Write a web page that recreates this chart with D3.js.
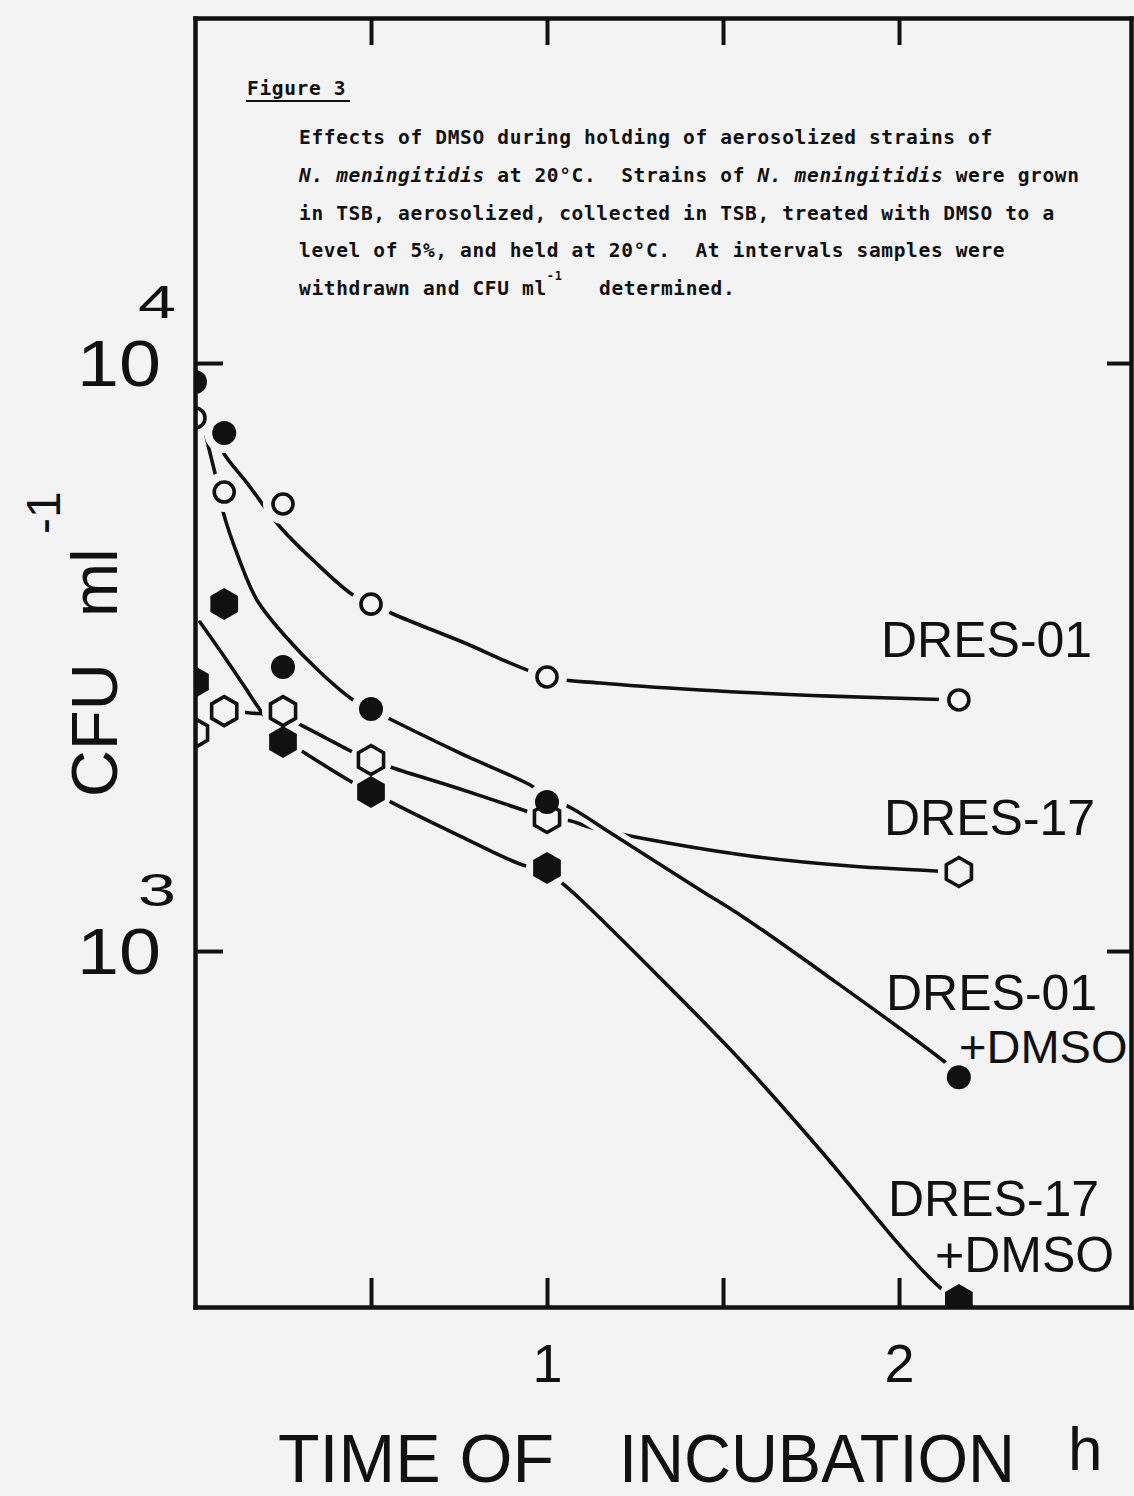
<!DOCTYPE html>
<html>
<head>
<meta charset="utf-8">
<script src="https://cdn.jsdelivr.net/npm/d3@7"></script>
<style>
  html, body { margin: 0; padding: 0; background: #f3f3f3; }
  svg { display: block; }
  .pre { white-space: pre; }
</style>
</head>
<body>
<svg id="chart" width="1134" height="1496"></svg>
<script>
// ---------------- DATA ----------------
// sampling times, hours
const times = [0, 0.083, 0.25, 0.5, 1.0, 2.17];
// CFU ml^-1 at each time
const dres01     = [8065, 6034, 5758, 3890, 2925, 2673];
const dres01Dmso = [9284, 7603, 3041, 2580, 1792, 610];
const dres17     = [2348, 2559, 2559, 2113, 1684, 1363];
const dres17Dmso = [2868, 3892, 2267, 1864, 1384, 255];

// hand-drawn fitted curves: [hours, CFU ml^-1]
const fit01 = [[0.014,8000],[0.051,7692],[0.085,6975],[0.148,6251],[0.242,5262],[0.335,4624],
  [0.449,4031],[0.506,3892],[0.563,3743],[0.753,3367],[1.003,2924],[1.151,2856],[1.435,2779],
  [1.804,2714],[2.168,2673]];
const fit01Dmso = [[0,9248],[0.017,8321],[0.034,7396],[0.060,6375],[0.080,5578],[0.122,4697],
  [0.176,3954],[0.261,3407],[0.355,2982],[0.449,2673],[0.503,2570],[0.753,2171],[0.952,1916],
  [1.003,1828],[1.074,1744],[1.190,1575],[1.435,1270],[1.557,1143],[1.804,900],[2.131,647],[2.179,610]];
const fit17 = [[0,2330],[0.080,2559],[0.156,2540],[0.247,2510],[0.307,2413],[0.449,2180],
  [0.503,2113],[0.563,2048],[0.753,1886],[0.932,1737],[1.0,1684],[1.068,1664],[1.119,1625],
  [1.236,1569],[1.577,1451],[1.861,1395],[2.165,1363]];
const fit17Dmso = [[0.014,3627],[0.074,3225],[0.134,2856],[0.193,2530],[0.247,2303],[0.3125,2171],
  [0.446,1938],[0.503,1864],[0.5625,1785],[0.753,1569],[0.932,1400],[1.0,1373],[1.043,1305],
  [1.097,1221],[1.327,893],[1.557,645],[1.784,453],[2.014,310],[2.119,267],[2.173,255]];

// axes
const xTicks = [0.5, 1, 1.5, 2];
const xTickLabels = ["", "1", "", "2"];
const yTicks = [1000, 10000];
const yTickExp = ["3", "4"];

// series labels
const seriesLabels = [["DRES-01"], ["DRES-17"], ["DRES-01", "+DMSO"], ["DRES-17", "+DMSO"]];

const captionTitle = "Figure 3";

// ---------------- LAYOUT ----------------
const BG = "#f3f3f3", INK = "#111";
const W = 1134, H = 1496;
const plot = { l: 195, r: 1131, t: 18, b: 1307 };

const svg = d3.select("#chart");
svg.append("rect").attr("width", W).attr("height", H).attr("fill", BG);
svg.append("defs").append("clipPath").attr("id", "pc")
  .append("rect").attr("x", plot.l).attr("y", plot.t)
  .attr("width", plot.r - plot.l).attr("height", plot.b - plot.t);

const x = d3.scaleLinear().domain([0, 2.659]).range([plot.l, plot.r]);
const y = d3.scaleLog().domain([248.1, 38620]).range([plot.b, plot.t]);

const line = d3.line().x(d => x(d[0])).y(d => y(d[1])).curve(d3.curveCatmullRom.alpha(0.5));

const symbolHex = {
  draw(ctx, size) {
    const r = Math.sqrt(size / (1.5 * Math.sqrt(3)));
    for (let i = 0; i < 6; i++) {
      const a = Math.PI / 180 * (-90 + 60 * i);
      const px = r * Math.cos(a), py = r * Math.sin(a);
      if (i) ctx.lineTo(px, py); else ctx.moveTo(px, py);
    }
    ctx.closePath();
  }
};

const series = [
  { values: dres01,     fit: fit01,     shape: "circle", filled: false },
  { values: dres17,     fit: fit17,     shape: "hex",    filled: false },
  { values: dres17Dmso, fit: fit17Dmso, shape: "hex",    filled: true },
  { values: dres01Dmso, fit: fit01Dmso, shape: "circle", filled: true, casing: true }
];

const g = svg.append("g").attr("clip-path", "url(#pc)");

// curves
series.forEach(s => {
  if (s.casing) {
    g.append("path").attr("d", line(s.fit)).attr("fill", "none")
      .attr("stroke", BG).attr("stroke-width", 14);
  }
  g.append("path").attr("d", line(s.fit)).attr("fill", "none")
    .attr("stroke", INK).attr("stroke-width", 3.6)
    .attr("stroke-linecap", "round").attr("stroke-linejoin", "round");
});

// gaps around markers
series.forEach(s => {
  g.selectAll(null).data(s.values.map((v, i) => [times[i], v])).join("circle")
    .attr("cx", d => x(d[0])).attr("cy", d => y(d[1]))
    .attr("r", s.shape === "hex" ? 21 : 20).attr("fill", BG);
});

// markers
series.forEach(s => {
  let type, size;
  if (s.shape === "hex") {
    const R = s.filled ? 16 : 14.5;
    type = symbolHex; size = 1.5 * Math.sqrt(3) * R * R;
  } else {
    const R = s.filled ? 12 : 10;
    type = d3.symbolCircle; size = Math.PI * R * R;
  }
  g.selectAll(null).data(s.values.map((v, i) => [times[i], v])).join("path")
    .attr("transform", d => `translate(${x(d[0])},${y(d[1])})`)
    .attr("d", d3.symbol(type, size)())
    .attr("fill", s.filled ? INK : "none")
    .attr("stroke", s.filled ? "none" : INK)
    .attr("stroke-width", 3.6);
});

// frame and ticks with d3 axes
function styleAxis(sel) {
  sel.select(".domain").attr("stroke", INK).attr("stroke-width", 4.5).attr("stroke-linecap", "square");
  sel.selectAll(".tick line").attr("stroke", INK).attr("stroke-width", 4);
}
const LET = "Liberation Sans, Arial, sans-serif";
const axB = svg.append("g").attr("transform", `translate(0,${plot.b})`)
  .call(d3.axisBottom(x).tickValues(xTicks).tickSizeInner(-29).tickSizeOuter(0)
    .tickPadding(37).tickFormat((d, i) => xTickLabels[i]));
styleAxis(axB);
axB.selectAll(".tick text").attr("font-size", 54).attr("font-family", LET).attr("fill", INK);

const axT = svg.append("g").attr("transform", `translate(0,${plot.t})`)
  .call(d3.axisTop(x).tickValues(xTicks).tickSizeInner(-27).tickSizeOuter(0).tickFormat(""));
styleAxis(axT);

const axL = svg.append("g").attr("transform", `translate(${plot.l},0)`)
  .call(d3.axisLeft(y).tickValues(yTicks).tickSizeInner(-28).tickSizeOuter(0).tickFormat(""));
styleAxis(axL);

const axR = svg.append("g").attr("transform", `translate(${plot.r},0)`)
  .call(d3.axisRight(y).tickValues(yTicks).tickSizeInner(-24).tickSizeOuter(0).tickFormat(""));
styleAxis(axR);

// y tick labels 10^n
yTicks.forEach((v, i) => {
  svg.append("text").attr("x", 77).attr("y", y(v) + 23)
    .attr("font-family", LET).attr("font-size", 64).attr("fill", INK)
    .attr("textLength", 84).attr("lengthAdjust", "spacingAndGlyphs").text("10");
  svg.append("text").attr("x", 138).attr("y", y(v) - 45)
    .attr("font-family", LET).attr("font-size", 46).attr("fill", INK)
    .attr("textLength", 38).attr("lengthAdjust", "spacingAndGlyphs").text(yTickExp[i]);
});

// y axis title (rotated): CFU ml^-1
const yt = svg.append("text").attr("transform", "rotate(-90)")
  .attr("font-family", LET).attr("fill", INK);
yt.append("tspan").attr("x", -797).attr("y", 117).attr("font-size", 65).text("CFU");
yt.append("tspan").attr("x", -617).attr("y", 117).attr("font-size", 65).text("ml");
yt.append("tspan").attr("x", -534).attr("y", 60).attr("font-size", 48).text("-1");

// x axis title
const xt = svg.append("text").attr("font-family", LET).attr("fill", INK);
xt.append("tspan").attr("x", 278).attr("y", 1482).attr("font-size", 68)
  .attr("textLength", 276).attr("lengthAdjust", "spacingAndGlyphs").text("TIME OF");
xt.append("tspan").attr("x", 619).attr("y", 1482).attr("font-size", 68)
  .attr("textLength", 396).attr("lengthAdjust", "spacingAndGlyphs").text("INCUBATION");
xt.append("tspan").attr("x", 1068).attr("y", 1470).attr("font-size", 62).text("h");

// series labels
const labelPos = [
  [[881, 657]],
  [[884, 835]],
  [[886, 1010], [959, 1063]],
  [[888, 1216], [935, 1272]]
];
seriesLabels.forEach((lines, i) => {
  const t = svg.append("text").attr("font-family", LET).attr("font-size", 50).attr("fill", INK);
  lines.forEach((txt, j) => {
    const ts = t.append("tspan").attr("x", labelPos[i][j][0]).attr("y", labelPos[i][j][1]).text(txt);
    if (txt === "+DMSO" && i === 2) ts.attr("font-size", 47);
  });
});

// caption
const MONO = "DejaVu Sans Mono, Liberation Mono, monospace";
const cap = svg.append("g").attr("font-family", MONO).attr("font-size", 19.5)
  .attr("font-weight", "bold").attr("letter-spacing", 0.65).attr("fill", INK);
function capText(xp, yp) {
  return cap.append("text").attr("x", xp).attr("y", yp).attr("class", "pre")
    .attr("xml:space", "preserve");
}
capText(247, 95).text(captionTitle);
svg.append("line").attr("x1", 246).attr("x2", 350).attr("y1", 101).attr("y2", 101)
  .attr("stroke", INK).attr("stroke-width", 2.2);

const capX = 299;
const capY = [144, 182, 220, 257, 295];
capText(capX, capY[0]).text("Effects of DMSO during holding of aerosolized strains of");
const l2 = capText(capX, capY[1]);
l2.append("tspan").attr("font-style", "italic").text("N. meningitidis");
l2.append("tspan").text(" at 20°C.  Strains of ");
l2.append("tspan").attr("font-style", "italic").text("N. meningitidis");
l2.append("tspan").text(" were grown");
capText(capX, capY[2]).text("in TSB, aerosolized, collected in TSB, treated with DMSO to a");
capText(capX, capY[3]).text("level of 5%, and held at 20°C.  At intervals samples were");
const l5 = capText(capX, capY[4]);
l5.append("tspan").text("withdrawn and CFU ml");
l5.append("tspan").attr("font-size", 12).attr("dy", -15).text("-1");
l5.append("tspan").attr("x", 599).attr("dy", 15).text("determined.");
</script>
</body>
</html>
